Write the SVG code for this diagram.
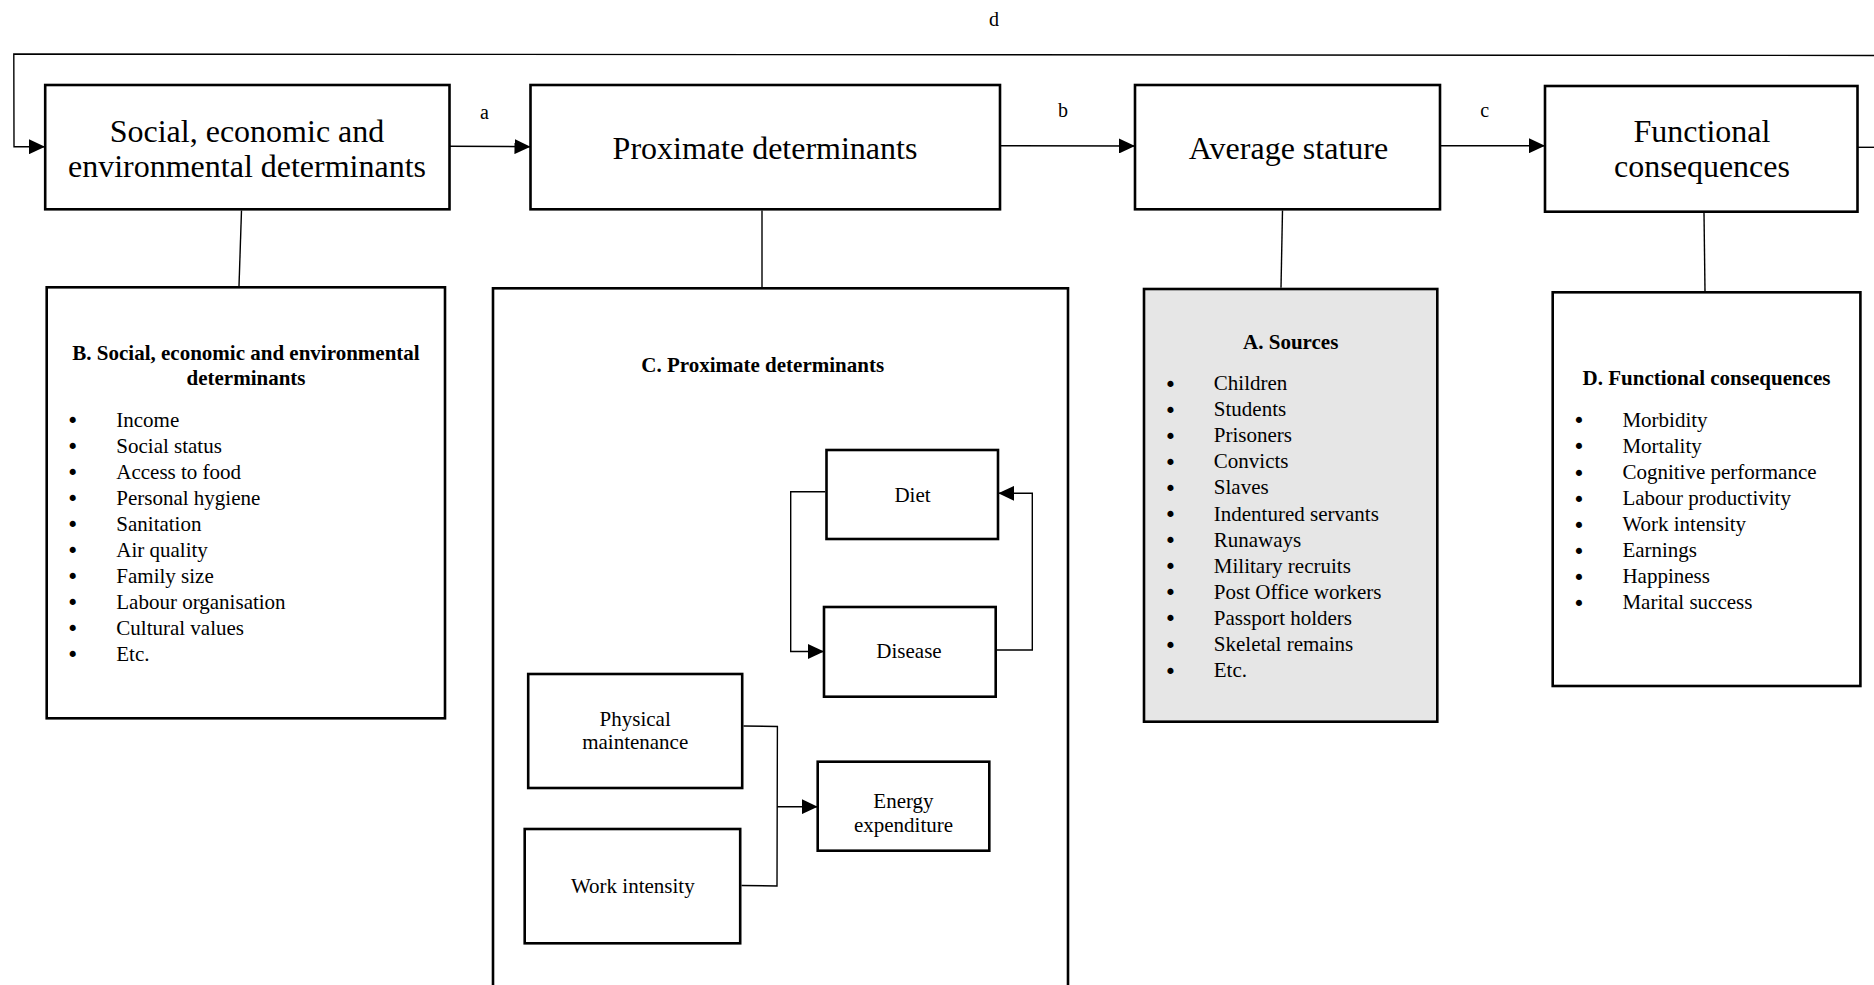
<svg xmlns="http://www.w3.org/2000/svg" width="1874" height="985" viewBox="0 0 1874 985">
<style>
text{font-family:"Liberation Serif","Times New Roman",serif;fill:#000}
.box{fill:#fff;stroke:#000;stroke-width:2.6}
.grey{fill:#e6e6e6}
.big{font-size:32px;text-anchor:middle}
.lbl{font-size:20px;text-anchor:middle}
.hd{font-size:21px;font-weight:bold;text-anchor:middle}
.li{font-size:21px}
.bu text{font-family:"DejaVu Sans",sans-serif;font-size:21px;text-anchor:middle}
.in{font-size:21px;text-anchor:middle}
.ln{fill:none;stroke:#000;stroke-width:1.4}
.arr{marker-end:url(#ah)}
</style>
<defs>
<marker id="ah" markerUnits="userSpaceOnUse" markerWidth="16" markerHeight="15" refX="16" refY="7.5" orient="auto">
<path d="M0,0 L16,7.5 L0,15 z" fill="#000"/>
</marker>
</defs>
<g id="n-social">
<rect class="box" x="45.2" y="85" width="404.3" height="124.3"/>
<text class="big" x="247" y="142">Social, economic and</text>
<text class="big" x="247" y="177">environmental determinants</text>
</g>
<g id="n-proximate">
<rect class="box" x="530.5" y="85" width="469.5" height="124.3"/>
<text class="big" x="765" y="159">Proximate determinants</text>
</g>
<g id="n-stature">
<rect class="box" x="1135" y="85" width="305" height="124.3"/>
<text class="big" x="1288.5" y="159">Average stature</text>
</g>
<g id="n-functional">
<rect class="box" x="1545" y="86" width="312.5" height="125.7"/>
<text class="big" x="1702" y="141.7">Functional</text>
<text class="big" x="1702" y="176.7">consequences</text>
</g>
<g id="n-B">
<rect class="box" x="46.7" y="287.3" width="398.3" height="431"/>
<text class="hd" x="246" y="360">B. Social, economic and environmental</text>
<text class="hd" x="246" y="385">determinants</text>
<g class="bu">
<text x="72.7" y="428.2">•</text><text x="72.7" y="454">•</text><text x="72.7" y="480">•</text><text x="72.7" y="506">•</text><text x="72.7" y="532">•</text><text x="72.7" y="558">•</text><text x="72.7" y="584">•</text><text x="72.7" y="610">•</text><text x="72.7" y="636">•</text><text x="72.7" y="662">•</text>
</g>
<g class="li">
<text x="116.3" y="426.7">Income</text>
<text x="116.3" y="452.5">Social status</text>
<text x="116.3" y="478.5">Access to food</text>
<text x="116.3" y="504.5">Personal hygiene</text>
<text x="116.3" y="530.5">Sanitation</text>
<text x="116.3" y="556.5">Air quality</text>
<text x="116.3" y="582.5">Family size</text>
<text x="116.3" y="608.5">Labour organisation</text>
<text x="116.3" y="634.5">Cultural values</text>
<text x="116.3" y="660.5">Etc.</text>
</g>
</g>
<g id="n-C">
<rect class="box" x="493" y="288.3" width="575" height="720"/>
<text class="hd" x="762.7" y="371.7">C. Proximate determinants</text>
</g>
<g id="n-diet">
<rect class="box" x="826.5" y="450" width="171.5" height="89"/>
<text class="in" x="912.5" y="502">Diet</text>
</g>
<g id="n-disease">
<rect class="box" x="824" y="607" width="171.7" height="89.7"/>
<text class="in" x="909" y="658.3">Disease</text>
</g>
<g id="n-physical">
<rect class="box" x="528.2" y="674" width="214" height="114"/>
<text class="in" x="635.2" y="726">Physical</text>
<text class="in" x="635.2" y="749.3">maintenance</text>
</g>
<g id="n-work">
<rect class="box" x="524.7" y="829" width="215.5" height="114.3"/>
<text class="in" x="632.8" y="893.3">Work intensity</text>
</g>
<g id="n-energy">
<rect class="box" x="817.7" y="761.7" width="171.6" height="89"/>
<text class="in" x="903.5" y="808.3">Energy</text>
<text class="in" x="903.5" y="831.7">expenditure</text>
</g>
<g id="n-A">
<rect class="box grey" x="1144" y="289" width="293.3" height="432.7"/>
<text class="hd" x="1290.7" y="349">A. Sources</text>
<g class="bu">
<text x="1170.5" y="391.5">•</text><text x="1170.5" y="417.5">•</text><text x="1170.5" y="443.7">•</text><text x="1170.5" y="469.8">•</text><text x="1170.5" y="495.9">•</text><text x="1170.5" y="522">•</text><text x="1170.5" y="548.1">•</text><text x="1170.5" y="574.2">•</text><text x="1170.5" y="600.3">•</text><text x="1170.5" y="626.4">•</text><text x="1170.5" y="652.5">•</text><text x="1170.5" y="678.7">•</text>
</g>
<g class="li">
<text x="1213.8" y="390">Children</text>
<text x="1213.8" y="416">Students</text>
<text x="1213.8" y="442.2">Prisoners</text>
<text x="1213.8" y="468.3">Convicts</text>
<text x="1213.8" y="494.4">Slaves</text>
<text x="1213.8" y="520.5">Indentured servants</text>
<text x="1213.8" y="546.6">Runaways</text>
<text x="1213.8" y="572.7">Military recruits</text>
<text x="1213.8" y="598.8">Post Office workers</text>
<text x="1213.8" y="624.9">Passport holders</text>
<text x="1213.8" y="651">Skeletal remains</text>
<text x="1213.8" y="677.2">Etc.</text>
</g>
</g>
<g id="n-D">
<rect class="box" x="1552.7" y="292.3" width="307.7" height="393.7"/>
<text class="hd" x="1706.5" y="385">D. Functional consequences</text>
<g class="bu">
<text x="1579" y="428.2">•</text><text x="1579" y="454.2">•</text><text x="1579" y="480.5">•</text><text x="1579" y="506.5">•</text><text x="1579" y="532.5">•</text><text x="1579" y="558.5">•</text><text x="1579" y="584.5">•</text><text x="1579" y="610.5">•</text>
</g>
<g class="li">
<text x="1622.4" y="426.7">Morbidity</text>
<text x="1622.4" y="452.7">Mortality</text>
<text x="1622.4" y="479">Cognitive performance</text>
<text x="1622.4" y="505">Labour productivity</text>
<text x="1622.4" y="531">Work intensity</text>
<text x="1622.4" y="557">Earnings</text>
<text x="1622.4" y="583">Happiness</text>
<text x="1622.4" y="609">Marital success</text>
</g>
</g>
<g id="connectors">
<path class="ln arr" d="M1874,55.5 L13.8,54 L14,146.7 L45,146.7"/>
<path class="ln" d="M1857.5,147.3 L1874,147.3"/>
<path class="ln arr" d="M449.5,146.2 L530.5,146.7"/>
<path class="ln arr" d="M1000,145.7 L1135,146"/>
<path class="ln arr" d="M1440,145.7 L1545,145.7"/>
<path class="ln" d="M241.5,210.5 L239,286"/>
<path class="ln" d="M762,210.5 L762,287"/>
<path class="ln" d="M1282.5,210.5 L1281,287.7"/>
<path class="ln" d="M1704,213 L1705,291"/>
<path class="ln arr" d="M825.2,491.7 L790.7,491.7 L790.7,651.5 L824,651.5"/>
<path class="ln arr" d="M997,650 L1032.3,650 L1032.3,493.3 L998.3,493.3"/>
<path class="ln" d="M743.5,726 L777.4,726.5 L777,886 L741.5,885.5"/>
<path class="ln arr" d="M777.2,806.7 L817.7,806.7"/>
</g>
<g id="labels">
<text class="lbl" x="994" y="26">d</text>
<text class="lbl" x="484.5" y="119">a</text>
<text class="lbl" x="1063" y="117">b</text>
<text class="lbl" x="1484.7" y="117">c</text>
</g>
</svg>
